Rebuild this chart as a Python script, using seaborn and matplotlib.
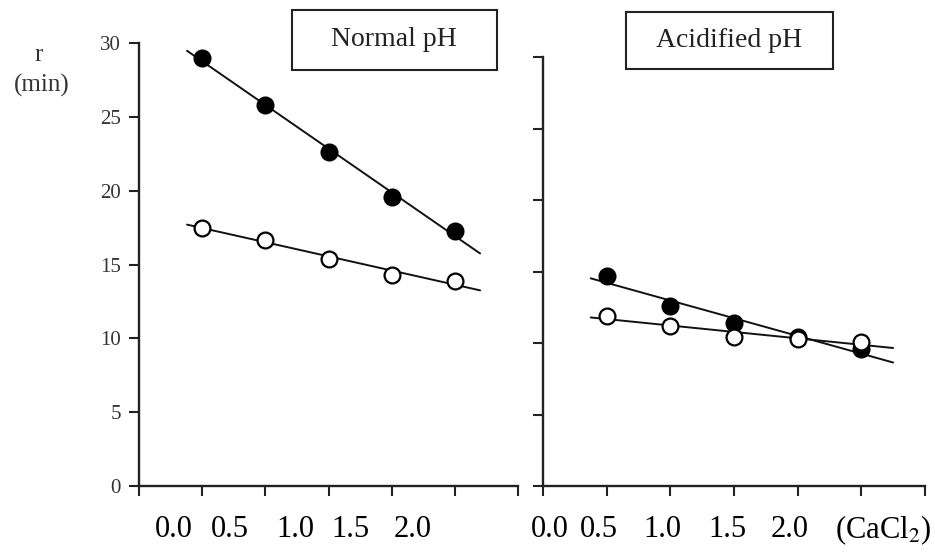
import numpy as np
import pandas as pd
import matplotlib
matplotlib.use("Agg")
import matplotlib.pyplot as plt
from matplotlib.patches import Rectangle
import matplotlib.transforms as mtransforms
import seaborn as sns

# ---- data ----
cacl2 = [0.0, 0.5, 1.0, 1.5, 2.0]
normal_filled = [29.0, 25.8, 22.6, 19.6, 17.3]
normal_open = [17.5, 16.7, 15.4, 14.3, 13.9]
acid_filled = [14.7, 12.6, 11.4, 10.4, 9.6]
acid_open = [11.9, 11.2, 10.4, 10.3, 10.1]
x_tick_labels = ["0.0", "0.5", "1.0", "1.5", "2.0"]
y_ticks = [0, 5, 10, 15, 20, 25, 30]
panel_titles = ["Normal pH", "Acidified pH"]
y_label_lines = ["r", "(min)"]
x_unit = "(CaCl$_2$)"

sns.set_theme(style="ticks")
plt.rcParams["font.family"] = ["Liberation Serif", "DejaVu Serif"]
plt.rcParams["mathtext.fontset"] = "stix"

df = pd.DataFrame({
    "cacl2": cacl2 * 4,
    "r": normal_filled + normal_open + acid_filled + acid_open,
    "panel": ["normal"] * 10 + ["acid"] * 10,
    "kind": (["filled"] * 5 + ["open"] * 5) * 2,
})

fig = plt.figure(figsize=(9.35, 5.59), dpi=100)
axL = fig.add_axes([0.1487, 0.1306, 0.4053, 0.792])
axR = fig.add_axes([0.5807, 0.1306, 0.4086, 0.767])

spans = {"normal": (-0.12, 2.2), "acid": (-0.125, 2.25)}
label_pos = {
    "normal": [-0.223, 0.22, 0.734, 1.177, 1.668],
    "acid": [-0.445, -0.06, 0.44, 0.945, 1.44],
}

for ax, panel in [(axL, "normal"), (axR, "acid")]:
    sub = df[df.panel == panel]
    for kind in ["filled", "open"]:
        d = sub[sub.kind == kind]
        k, b = np.polyfit(d.cacl2, d.r, 1)
        xs = np.array(spans[panel])
        sns.lineplot(x=xs, y=k * xs + b, ax=ax, color="#111111", lw=1.4, zorder=2)
    for kind in ["filled", "open"]:
        d = sub[sub.kind == kind]
        sns.scatterplot(data=d, x="cacl2", y="r", ax=ax, marker="o", s=130,
                        color="black" if kind == "filled" else "white",
                        edgecolor="black", linewidth=1.6, zorder=3 + (kind == "open"))
    ax.set_xlim(-0.5, 2.5)
    ax.set_ylim(0, 30)
    ax.set_xlabel("")
    ax.set_ylabel("")
    sns.despine(ax=ax)
    for s in ["left", "bottom"]:
        ax.spines[s].set_linewidth(1.7)
        ax.spines[s].set_color("#222222")
    ax.set_yticks(y_ticks)
    ax.set_xticks(np.arange(-0.5, 2.51, 0.5))
    ax.set_xticklabels([])
    ax.tick_params(axis="both", direction="out", length=7, width=1.5, color="#222222")
    ax.tick_params(axis="y", labelsize=15, labelcolor="#333333", pad=6)
    trans = mtransforms.blended_transform_factory(ax.transData, fig.transFigure)
    for xp, lab in zip(label_pos[panel], x_tick_labels):
        ax.text(xp, 0.052, lab, transform=trans, ha="center", va="center",
                fontsize=22, color="black")

axR.set_yticklabels([])
transR = mtransforms.blended_transform_factory(axR.transData, fig.transFigure)
axR.text(2.17, 0.052, x_unit, transform=transR, ha="center", va="center",
         fontsize=22, color="black")

# panel title boxes
boxes = [(0.3123, 0.8748, 0.2193, 0.1073, 0.4214), (0.6695, 0.8766, 0.2214, 0.102, 0.7797)]
for (x0, y0, w, h, xc), title in zip(boxes, panel_titles):
    fig.patches.append(Rectangle((x0, y0), w, h, transform=fig.transFigure,
                                 fill=False, ec="#222222", lw=1.5))
    fig.text(xc, y0 + h / 2, title, ha="center", va="center", fontsize=20,
             color="#222222")

fig.text(0.041, 0.902, y_label_lines[0], ha="center", va="center", fontsize=18, color="#333333")
fig.text(0.045, 0.848, y_label_lines[1], ha="center", va="center", fontsize=18, color="#333333")

fig.savefig("out.png", dpi=100, facecolor="white")
